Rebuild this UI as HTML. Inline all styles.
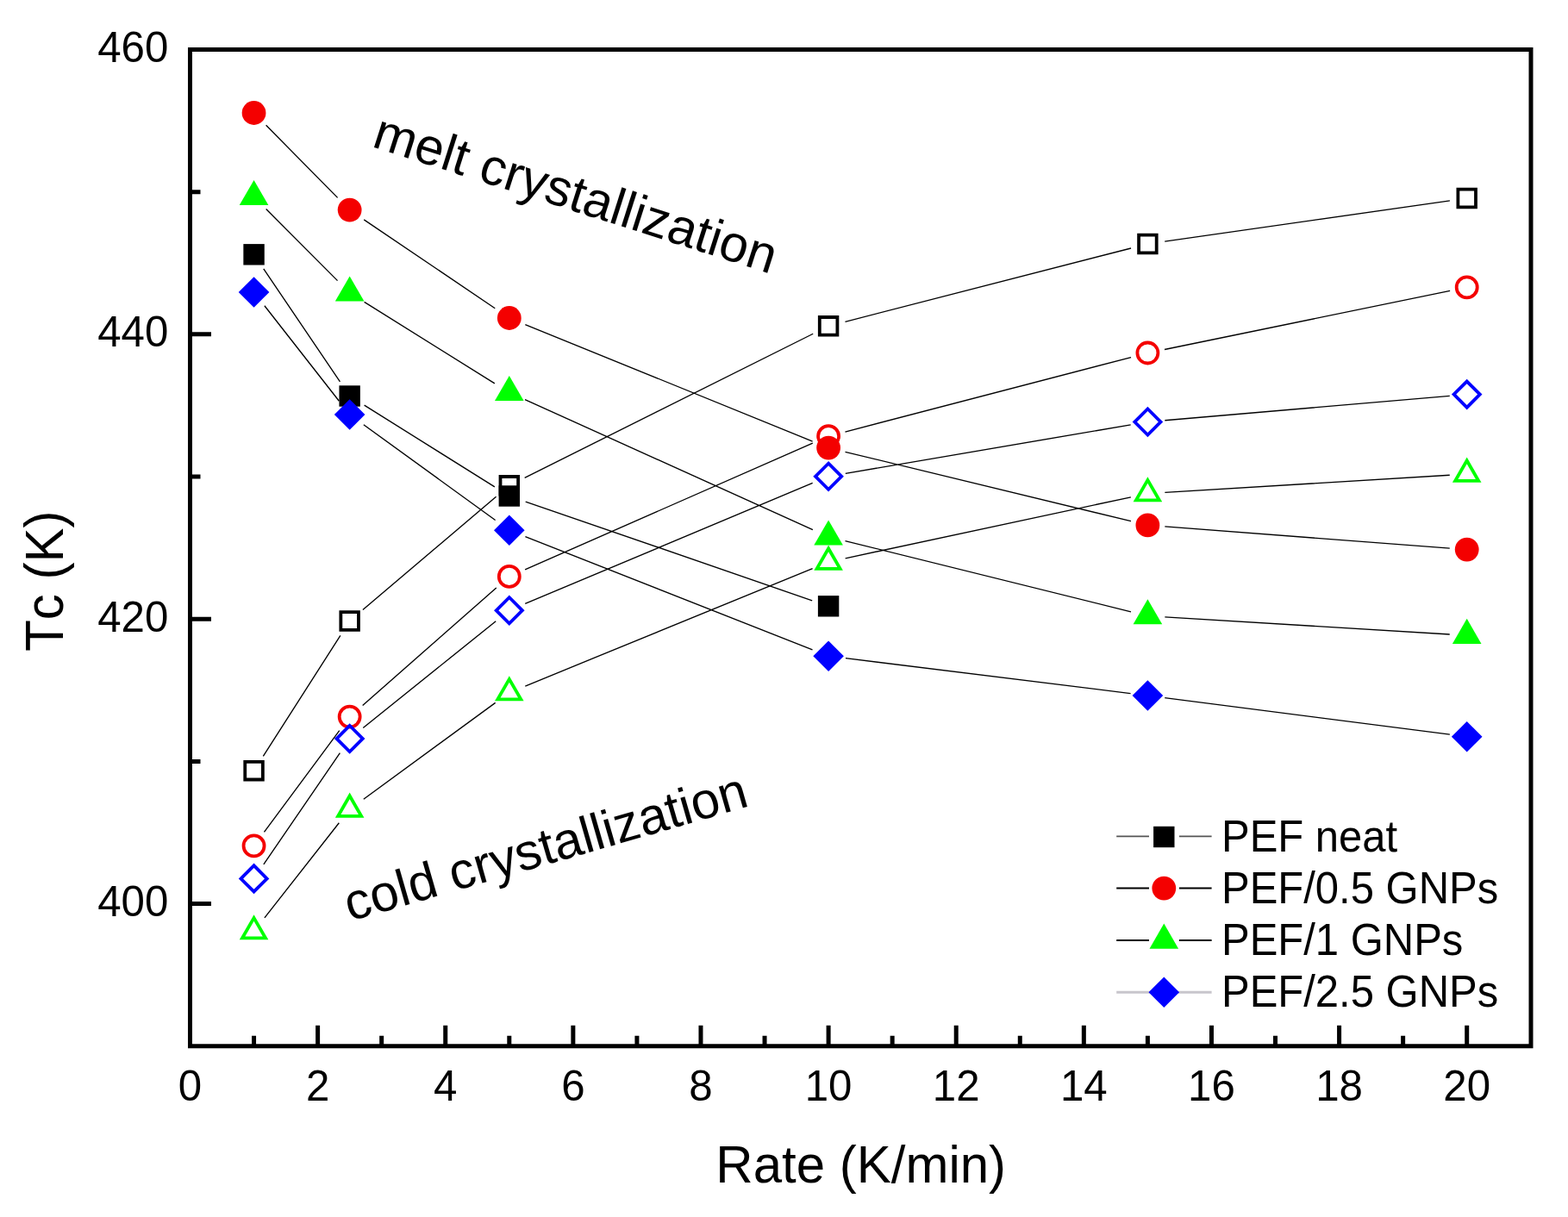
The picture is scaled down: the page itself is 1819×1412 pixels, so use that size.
<!DOCTYPE html>
<html><head><meta charset="utf-8"><title>Tc vs Rate</title>
<style>html,body{margin:0;padding:0;background:#fff;}svg{display:block;}</style>
</head><body>
<svg width="1819" height="1412" viewBox="0 0 1819 1412">
<rect width="1819" height="1412" fill="#ffffff"/>
<path d="M294.56 1213.75V1201.75 M368.62 1213.75V1189.75 M442.68 1213.75V1201.75 M516.74 1213.75V1189.75 M590.8 1213.75V1201.75 M664.86 1213.75V1189.75 M738.92 1213.75V1201.75 M812.98 1213.75V1189.75 M887.04 1213.75V1201.75 M961.1 1213.75V1189.75 M1035.16 1213.75V1201.75 M1109.22 1213.75V1189.75 M1183.28 1213.75V1201.75 M1257.34 1213.75V1189.75 M1331.4 1213.75V1201.75 M1405.46 1213.75V1189.75 M1479.52 1213.75V1201.75 M1553.58 1213.75V1189.75 M1627.64 1213.75V1201.75 M1701.7 1213.75V1189.75 M220.5 1048.57H245 M220.5 883.39H232.5 M220.5 718.21H245 M220.5 553.04H232.5 M220.5 387.86H245 M220.5 222.68H232.5" stroke="#000" stroke-width="5" fill="none"/>
<path d="M305.77 311.87L394.44 442.93 M422.6 470.12L573.85 564.88 M609.71 582.02L942.19 696.78 M308.61 145.24L391.6 229.36 M422.21 254.82L574.24 357.78 M609.33 376.53L942.57 512.07 M980.54 524.31L1311.96 604.69 M1351.34 610.92L1681.76 636.08 M308.68 242.56L391.53 325.64 M422.61 350.39L573.84 444.81 M609.02 463.64L942.88 614.56 M980.51 627.61L1311.99 709.79 M1351.36 715.82L1681.74 735.98 M306.88 354.75L393.33 465.25 M421.84 492.74L574.61 603.56 M609.41 622.63L942.49 753.87 M980.95 763.65L1311.55 804.55 M1351.24 809.56L1681.86 852.14 M305.34 877.35L394.87 737.35 M420.9 707.56L575.55 576.24 M608.69 554.36L943.21 387.24 M980.47 373.32L1312.03 287.98 M1351.2 280.17L1681.9 232.83 M306.47 965.34L393.74 847.66 M420.67 818.4L575.78 682.1 M609.11 660.85L942.79 514.15 M980.45 501.05L1312.05 414.55 M1350.99 405.47L1682.11 337.43 M306.9 1064.86L393.31 954.74 M421.79 927.19L574.66 815.41 M609.31 796.02L942.59 659.58 M980.66 647.81L1311.84 576.79 M1351.36 571.38L1681.74 551.22 M305.85 1002.89L394.36 873.51 M421.24 844.47L575.21 720.73 M609.24 700.46L942.66 560.44 M980.81 549.34L1311.69 492.86 M1351.33 487.78L1681.77 459.32" stroke="#000" stroke-width="1.35" fill="none"/>
<path d="M282.36 882 L306.76 882 L306.76 906.4 L282.36 906.4 Z M286.16 885.8 L302.96 885.8 L302.96 902.6 L286.16 902.6 Z" fill="#000000" fill-rule="evenodd"/>
<path d="M393.45 708.3 L417.85 708.3 L417.85 732.7 L393.45 732.7 Z M397.25 712.1 L414.05 712.1 L414.05 728.9 L397.25 728.9 Z" fill="#000000" fill-rule="evenodd"/>
<path d="M578.6 551.1 L603 551.1 L603 575.5 L578.6 575.5 Z M582.4 554.9 L599.2 554.9 L599.2 571.7 L582.4 571.7 Z" fill="#000000" fill-rule="evenodd"/>
<path d="M948.9 366.1 L973.3 366.1 L973.3 390.5 L948.9 390.5 Z M952.7 369.9 L969.5 369.9 L969.5 386.7 L952.7 386.7 Z" fill="#000000" fill-rule="evenodd"/>
<path d="M1319.2 270.8 L1343.6 270.8 L1343.6 295.2 L1319.2 295.2 Z M1323 274.6 L1339.8 274.6 L1339.8 291.4 L1323 291.4 Z" fill="#000000" fill-rule="evenodd"/>
<path d="M1689.5 217.8 L1713.9 217.8 L1713.9 242.2 L1689.5 242.2 Z M1693.3 221.6 L1710.1 221.6 L1710.1 238.4 L1693.3 238.4 Z" fill="#000000" fill-rule="evenodd"/>
<circle cx="294.56" cy="981.4" r="12" fill="none" stroke="#f40000" stroke-width="3.8"/>
<circle cx="405.65" cy="831.6" r="12" fill="none" stroke="#f40000" stroke-width="3.8"/>
<circle cx="590.8" cy="668.9" r="12" fill="none" stroke="#f40000" stroke-width="3.8"/>
<circle cx="961.1" cy="506.1" r="12" fill="none" stroke="#f40000" stroke-width="3.8"/>
<circle cx="1331.4" cy="409.5" r="12" fill="none" stroke="#f40000" stroke-width="3.8"/>
<circle cx="1701.7" cy="333.4" r="12" fill="none" stroke="#f40000" stroke-width="3.8"/>
<path d="M294.56 1061.2 L311.36 1090.3 L277.76 1090.3 Z M294.56 1068.8 L304.78 1086.5 L284.34 1086.5 Z" fill="#00ff00" fill-rule="evenodd"/>
<path d="M405.65 919.6 L422.45 948.7 L388.85 948.7 Z M405.65 927.2 L415.87 944.9 L395.43 944.9 Z" fill="#00ff00" fill-rule="evenodd"/>
<path d="M590.8 784.2 L607.6 813.3 L574 813.3 Z M590.8 791.8 L601.02 809.5 L580.58 809.5 Z" fill="#00ff00" fill-rule="evenodd"/>
<path d="M961.1 632.6 L977.9 661.7 L944.3 661.7 Z M961.1 640.2 L971.32 657.9 L950.88 657.9 Z" fill="#00ff00" fill-rule="evenodd"/>
<path d="M1331.4 553.2 L1348.2 582.3 L1314.6 582.3 Z M1331.4 560.8 L1341.62 578.5 L1321.18 578.5 Z" fill="#00ff00" fill-rule="evenodd"/>
<path d="M1701.7 530.6 L1718.5 559.7 L1684.9 559.7 Z M1701.7 538.2 L1711.92 555.9 L1691.48 555.9 Z" fill="#00ff00" fill-rule="evenodd"/>
<path d="M294.56 1001.6 L312.36 1019.4 L294.56 1037.2 L276.76 1019.4 Z M294.56 1006.97 L306.99 1019.4 L294.56 1031.83 L282.13 1019.4 Z" fill="#0000ff" fill-rule="evenodd"/>
<path d="M405.65 839.2 L423.45 857 L405.65 874.8 L387.85 857 Z M405.65 844.57 L418.08 857 L405.65 869.43 L393.22 857 Z" fill="#0000ff" fill-rule="evenodd"/>
<path d="M590.8 690.4 L608.6 708.2 L590.8 726 L573 708.2 Z M590.8 695.77 L603.23 708.2 L590.8 720.63 L578.37 708.2 Z" fill="#0000ff" fill-rule="evenodd"/>
<path d="M961.1 534.9 L978.9 552.7 L961.1 570.5 L943.3 552.7 Z M961.1 540.27 L973.53 552.7 L961.1 565.13 L948.67 552.7 Z" fill="#0000ff" fill-rule="evenodd"/>
<path d="M1331.4 471.7 L1349.2 489.5 L1331.4 507.3 L1313.6 489.5 Z M1331.4 477.07 L1343.83 489.5 L1331.4 501.93 L1318.97 489.5 Z" fill="#0000ff" fill-rule="evenodd"/>
<path d="M1701.7 439.8 L1719.5 457.6 L1701.7 475.4 L1683.9 457.6 Z M1701.7 445.17 L1714.13 457.6 L1701.7 470.03 L1689.27 457.6 Z" fill="#0000ff" fill-rule="evenodd"/>
<rect x="282.36" y="283.1" width="24.4" height="24.4" fill="#000000"/>
<rect x="393.45" y="447.3" width="24.4" height="24.4" fill="#000000"/>
<rect x="578.6" y="563.3" width="24.4" height="24.4" fill="#000000"/>
<rect x="948.9" y="691.1" width="24.4" height="24.4" fill="#000000"/>
<circle cx="294.56" cy="131" r="13.9" fill="#f40000"/>
<circle cx="405.65" cy="243.6" r="13.9" fill="#f40000"/>
<circle cx="590.8" cy="369" r="13.9" fill="#f40000"/>
<circle cx="961.1" cy="519.6" r="13.9" fill="#f40000"/>
<circle cx="1331.4" cy="609.4" r="13.9" fill="#f40000"/>
<circle cx="1701.7" cy="637.6" r="13.9" fill="#f40000"/>
<path d="M294.56 209 L311.36 238.1 L277.76 238.1 Z" fill="#00ff00"/>
<path d="M405.65 320.4 L422.45 349.5 L388.85 349.5 Z" fill="#00ff00"/>
<path d="M590.8 436 L607.6 465.1 L574 465.1 Z" fill="#00ff00"/>
<path d="M961.1 603.4 L977.9 632.5 L944.3 632.5 Z" fill="#00ff00"/>
<path d="M1331.4 695.2 L1348.2 724.3 L1314.6 724.3 Z" fill="#00ff00"/>
<path d="M1701.7 717.8 L1718.5 746.9 L1684.9 746.9 Z" fill="#00ff00"/>
<path d="M294.56 321.2 L312.36 339 L294.56 356.8 L276.76 339 Z" fill="#0000ff"/>
<path d="M405.65 463.2 L423.45 481 L405.65 498.8 L387.85 481 Z" fill="#0000ff"/>
<path d="M590.8 597.5 L608.6 615.3 L590.8 633.1 L573 615.3 Z" fill="#0000ff"/>
<path d="M961.1 743.4 L978.9 761.2 L961.1 779 L943.3 761.2 Z" fill="#0000ff"/>
<path d="M1331.4 789.2 L1349.2 807 L1331.4 824.8 L1313.6 807 Z" fill="#0000ff"/>
<path d="M1701.7 836.9 L1719.5 854.7 L1701.7 872.5 L1683.9 854.7 Z" fill="#0000ff"/>
<rect x="220.5" y="57.5" width="1555.5" height="1156.25" fill="none" stroke="#000" stroke-width="5"/>
<text transform="translate(220.5 1276.6) scale(0.985 1.012)" font-size="50" text-anchor="middle" font-family="'Liberation Sans', Arial, sans-serif" style="font-kerning:none">0</text>
<text transform="translate(368.62 1276.6) scale(0.985 1.012)" font-size="50" text-anchor="middle" font-family="'Liberation Sans', Arial, sans-serif" style="font-kerning:none">2</text>
<text transform="translate(516.74 1276.6) scale(0.985 1.012)" font-size="50" text-anchor="middle" font-family="'Liberation Sans', Arial, sans-serif" style="font-kerning:none">4</text>
<text transform="translate(664.86 1276.6) scale(0.985 1.012)" font-size="50" text-anchor="middle" font-family="'Liberation Sans', Arial, sans-serif" style="font-kerning:none">6</text>
<text transform="translate(812.98 1276.6) scale(0.985 1.012)" font-size="50" text-anchor="middle" font-family="'Liberation Sans', Arial, sans-serif" style="font-kerning:none">8</text>
<text transform="translate(961.1 1276.6) scale(0.985 1.012)" font-size="50" text-anchor="middle" font-family="'Liberation Sans', Arial, sans-serif" style="font-kerning:none">10</text>
<text transform="translate(1109.22 1276.6) scale(0.985 1.012)" font-size="50" text-anchor="middle" font-family="'Liberation Sans', Arial, sans-serif" style="font-kerning:none">12</text>
<text transform="translate(1257.34 1276.6) scale(0.985 1.012)" font-size="50" text-anchor="middle" font-family="'Liberation Sans', Arial, sans-serif" style="font-kerning:none">14</text>
<text transform="translate(1405.46 1276.6) scale(0.985 1.012)" font-size="50" text-anchor="middle" font-family="'Liberation Sans', Arial, sans-serif" style="font-kerning:none">16</text>
<text transform="translate(1553.58 1276.6) scale(0.985 1.012)" font-size="50" text-anchor="middle" font-family="'Liberation Sans', Arial, sans-serif" style="font-kerning:none">18</text>
<text transform="translate(1701.7 1276.6) scale(0.985 1.012)" font-size="50" text-anchor="middle" font-family="'Liberation Sans', Arial, sans-serif" style="font-kerning:none">20</text>
<text transform="translate(195.3 1063.07) scale(0.985 1.012)" font-size="50" text-anchor="end" font-family="'Liberation Sans', Arial, sans-serif" style="font-kerning:none">400</text>
<text transform="translate(195.3 732.71) scale(0.985 1.012)" font-size="50" text-anchor="end" font-family="'Liberation Sans', Arial, sans-serif" style="font-kerning:none">420</text>
<text transform="translate(195.3 402.36) scale(0.985 1.012)" font-size="50" text-anchor="end" font-family="'Liberation Sans', Arial, sans-serif" style="font-kerning:none">440</text>
<text transform="translate(195.3 72) scale(0.985 1.012)" font-size="50" text-anchor="end" font-family="'Liberation Sans', Arial, sans-serif" style="font-kerning:none">460</text>
<text transform="translate(998.7 1371.6) scale(1 1.02)" font-size="60" text-anchor="middle" font-family="'Liberation Sans', Arial, sans-serif" style="font-kerning:none">Rate (K/min)</text>
<text transform="translate(72.8 674.2) rotate(-90) scale(1 1.05)" font-size="60" text-anchor="middle" font-family="'Liberation Sans', Arial, sans-serif" style="font-kerning:none">Tc (K)</text>
<text transform="translate(430 169.7) rotate(17.7)" font-size="59.6" font-family="'Liberation Sans', Arial, sans-serif" style="font-kerning:none">melt crystallization</text>
<text transform="translate(406 1069) rotate(-16.1)" font-size="59.6" font-family="'Liberation Sans', Arial, sans-serif" style="font-kerning:none">cold crystallization</text>
<path d="M1295.2 970.4H1333M1367.9 970.4H1405.6" stroke="#555" stroke-width="1.8"/>
<rect x="1338.1" y="958.8" width="24.4" height="24.4" fill="#000000"/>
<path d="M1295.2 1030.6H1333M1367.9 1030.6H1405.6" stroke="#000" stroke-width="2"/>
<circle cx="1350.3" cy="1030.6" r="13.9" fill="#f40000"/>
<path d="M1295.2 1091H1333M1367.9 1091H1405.6" stroke="#000" stroke-width="2"/>
<path d="M1350.3 1071.6 L1367.1 1100.7 L1333.5 1100.7 Z" fill="#00ff00"/>
<path d="M1295.2 1151.3H1405.6" stroke="#c8c6cc" stroke-width="3"/>
<path d="M1350.3 1133.5 L1368.1 1151.3 L1350.3 1169.1 L1332.5 1151.3 Z" fill="#0000ff"/>
<text transform="translate(1417 988.3) scale(1 1.05)" font-size="49" font-family="'Liberation Sans', Arial, sans-serif" style="font-kerning:none">PEF neat</text>
<text transform="translate(1417 1047.7) scale(1 1.05)" font-size="49" font-family="'Liberation Sans', Arial, sans-serif" style="font-kerning:none">PEF/0.5 GNPs</text>
<text transform="translate(1417 1108.4) scale(1 1.05)" font-size="49" font-family="'Liberation Sans', Arial, sans-serif" style="font-kerning:none">PEF/1 GNPs</text>
<text transform="translate(1417 1168.4) scale(1 1.05)" font-size="49" font-family="'Liberation Sans', Arial, sans-serif" style="font-kerning:none">PEF/2.5 GNPs</text>
</svg>
</body></html>
